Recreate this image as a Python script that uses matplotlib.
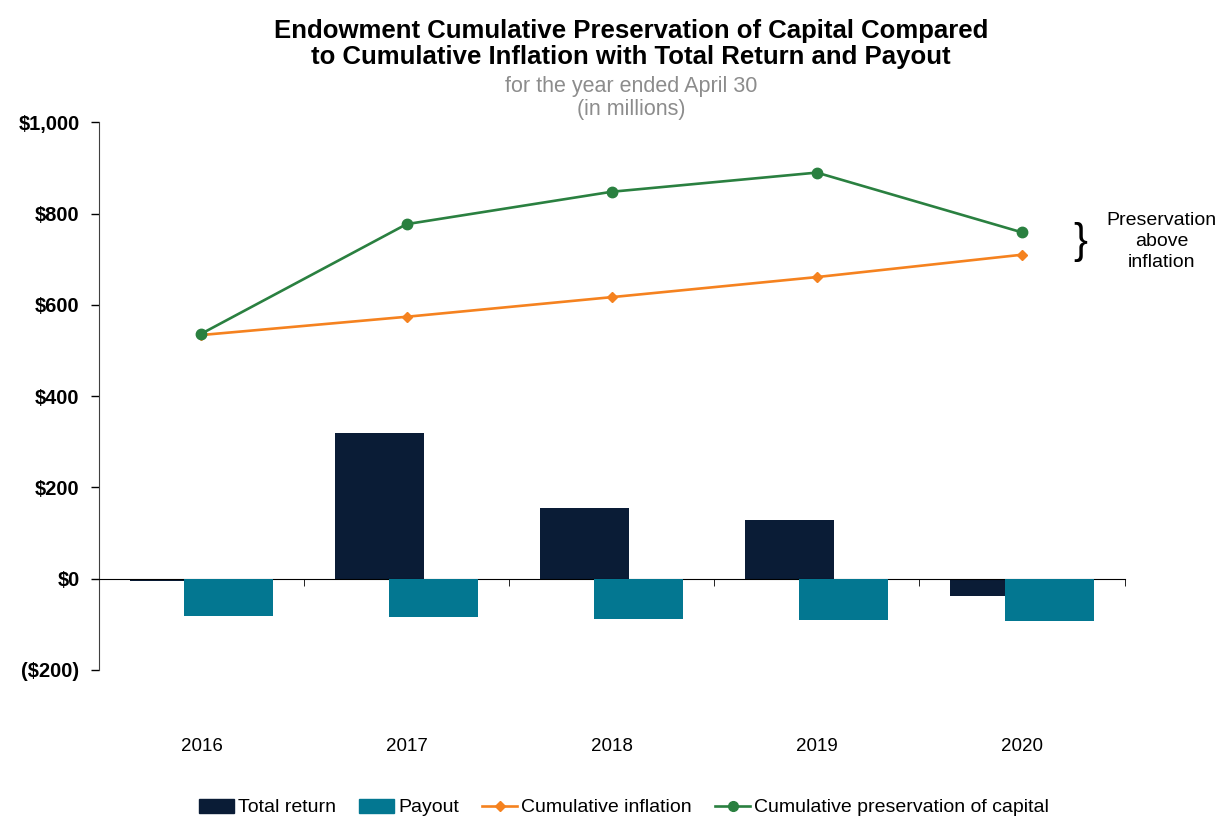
import numpy as np
import matplotlib.pyplot as plt
from matplotlib.patches import Patch
from matplotlib.lines import Line2D

plt.rcParams['font.family'] = ['Liberation Sans', 'DejaVu Sans']

years = ['2016', '2017', '2018', '2019', '2020']
total_return = [-5, 319, 155, 128, -39]
payout = [-81, -85, -88, -91, -93]
cum_inflation = [534, 574, 617, 661, 710]
cum_preservation = [537, 777, 848, 890, 759]

navy = '#0A1C36'
teal = '#037791'
orange = '#F5821F'
green = '#2A8040'

fig = plt.figure(figsize=(12.21, 8.16), dpi=100)
ax = fig.add_axes([0.081, 0.179, 0.840, 0.671])

x = np.arange(len(years))
w = 0.434
ax.bar(x - 0.132, total_return, w, color=navy, zorder=2)
ax.bar(x + 0.132, payout, w, color=teal, zorder=3)
ax.plot(x, cum_inflation, color=orange, lw=1.9, marker='D', ms=5.5, zorder=4)
ax.plot(x, cum_preservation, color=green, lw=1.9, marker='o', ms=7.5, zorder=5)

ax.set_xlim(-0.5, 4.5)
ax.set_ylim(-200, 1000)
ax.set_yticks(range(-200, 1001, 200))
ax.set_yticklabels(['($200)', '$0', '$200', '$400', '$600', '$800', '$1,000'],
                   fontsize=14.5, fontweight='bold')
ax.tick_params(axis='y', length=6, width=1, pad=8)

for s in ['top', 'right']:
    ax.spines[s].set_visible(False)
ax.spines['bottom'].set_position(('data', 0))
ax.spines['left'].set_color('#404040')

ax.set_xticks(x)
ax.set_xticklabels(years, fontsize=13.5)
ax.tick_params(axis='x', length=0, pad=115)
ax.set_xticks(np.arange(-0.5, 5, 1), minor=True)
ax.tick_params(axis='x', which='minor', length=5, direction='out')

# brace + note on the right
ax.text(4.285, 738, '}', fontsize=30, ha='center', va='center', clip_on=False)
ax.text(4.68, 739, 'Preservation\nabove\ninflation', fontsize=14, ha='center',
        va='center', linespacing=1.32, clip_on=False)

fig.text(0.517, 0.946, 'Endowment Cumulative Preservation of Capital Compared\n'
         'to Cumulative Inflation with Total Return and Payout',
         ha='center', va='center', fontsize=18.5, fontweight='bold', linespacing=1.15)
fig.text(0.517, 0.880, 'for the year ended April 30\n(in millions)', ha='center',
         va='center', fontsize=15.5, color='#8C8C8C', linespacing=1.1)

handles = [Patch(color=navy), Patch(color=teal),
           Line2D([], [], color=orange, lw=1.9, marker='D', ms=5),
           Line2D([], [], color=green, lw=1.9, marker='o', ms=7)]
labels = ['Total return', 'Payout', 'Cumulative inflation',
          'Cumulative preservation of capital']
fig.legend(handles, labels, loc='lower center', bbox_to_anchor=(0.511, -0.022), ncol=4,
           frameon=False, fontsize=14, handlelength=1.8, handleheight=0.75,
           handletextpad=0.2, columnspacing=1.2)

fig.savefig('out.png', dpi=100)
